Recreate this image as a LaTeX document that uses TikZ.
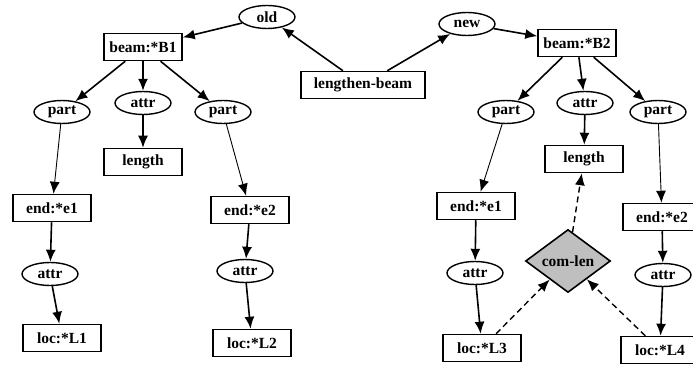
\documentclass[tikz,border=0pt]{standalone}
\usepackage{fontspec}
\setmainfont{Liberation Serif}
\usetikzlibrary{shapes.geometric,arrows.meta}
\begin{document}
\begin{tikzpicture}[x=1pt,y=-1pt]
  \tikzset{ box/.style={draw,line width=1.5pt,minimum width=78pt,minimum height=27pt,inner sep=0pt,font=\fontsize{15.5}{18}\selectfont\bfseries},
    oval/.style={ellipse,draw,line width=1.4pt,minimum width=56pt,minimum height=23pt,inner sep=0pt,font=\fontsize{15.5}{18}\selectfont\bfseries},
    arr/.style={-{Latex[length=12pt,width=10pt]},line width=1.6pt},
    thinarr/.style={-{Latex[length=12pt,width=10pt]},line width=0.9pt},
    dasharr/.style={-{Latex[length=12pt,width=10pt]},line width=1.4pt,dash pattern=on 6pt off 4pt},
  }
  \useasboundingbox (0,0) rectangle (693,366);

  \node[oval] (old) at (267,17)   {old};
  \node[oval] (new) at (467,24)   {new};
  \node[box] (B1) at (143,47)   {beam:*B1};
  \node[box] (B2) at (577,43)   {beam:*B2};
  \node[box,minimum width=124pt] (lb) at (363,85)   {lengthen-beam};

  \node[oval] (pa1) at (62,112)   {part};
  \node[oval] (at1) at (143,103)   {attr};
  \node[oval] (pa2) at (223,112)   {part};
  \node[box] (len1) at (143,162)   {length};
  \node[oval] (pa3) at (506,112)   {part};
  \node[oval] (at3) at (585,103)   {attr};
  \node[oval] (pa4) at (658,112)   {part};
  \node[box] (len2) at (584,159)   {length};

  \node[box] (e1) at (52,208)   {end:*e1};
  \node[oval] (at2) at (50,274)   {attr};
  \node[box] (L1) at (62,338)   {loc:*L1};
  \node[box] (e2) at (250,210)   {end:*e2};
  \node[oval] (at4) at (245,271)   {attr};
  \node[box] (L2) at (252,343)   {loc:*L2};
  \node[box] (e3) at (476,206)   {end:*e1};
  \node[oval] (at5) at (475,273)   {attr};
  \node[box] (L3) at (482,348)   {loc:*L3};
  \node[box] (e4) at (662,217)   {end:*e2};
  \node[oval] (at6) at (663,275)   {attr};
  \node[box] (L4) at (660,350)   {loc:*L4};

  \node[diamond,draw,line width=1.6pt,fill=gray!50,aspect=1.35,minimum width=85pt,minimum height=63pt,inner sep=0pt,font=\fontsize{15.5}{18}\selectfont\bfseries] (cl) at (568,261)   {com-len};

  \draw[arr]  (old) -- (B1);
  \draw[arr]  (lb) -- (old);
  \draw[arr]  (lb) -- (new);
  \draw[arr]  (new) -- (B2);

  \draw[arr]  (B1) -- (pa1);
  \draw[arr]  (B1) -- (at1);
  \draw[arr]  (B1) -- (pa2);
  \draw[arr]  (at1) -- (len1);
  \draw[arr]  (B2) -- (pa3);
  \draw[arr]  (B2) -- (at3);
  \draw[arr]  (B2) -- (pa4);
  \draw[arr]  (at3) -- (len2);

  \draw[thinarr]  (pa1) -- (e1);
  \draw[thinarr]  (pa2) -- (e2);
  \draw[thinarr]  (pa3) -- (e3);
  \draw[thinarr]  (pa4) -- (e4);

  \draw[arr]  (e1) -- (at2);
  \draw[arr]  (at2) -- (L1);
  \draw[arr]  (e2) -- (at4);
  \draw[arr]  (at4) -- (L2);
  \draw[arr]  (e3) -- (at5);
  \draw[arr]  (at5) -- (L3);
  \draw[arr]  (e4) -- (at6);
  \draw[arr]  (at6) -- (L4);

  \draw[dasharr]  (L3) -- (cl);
  \draw[dasharr]  (L4) -- (cl);
  \draw[dasharr]  (cl) -- (len2);

\end{tikzpicture}
\end{document}
